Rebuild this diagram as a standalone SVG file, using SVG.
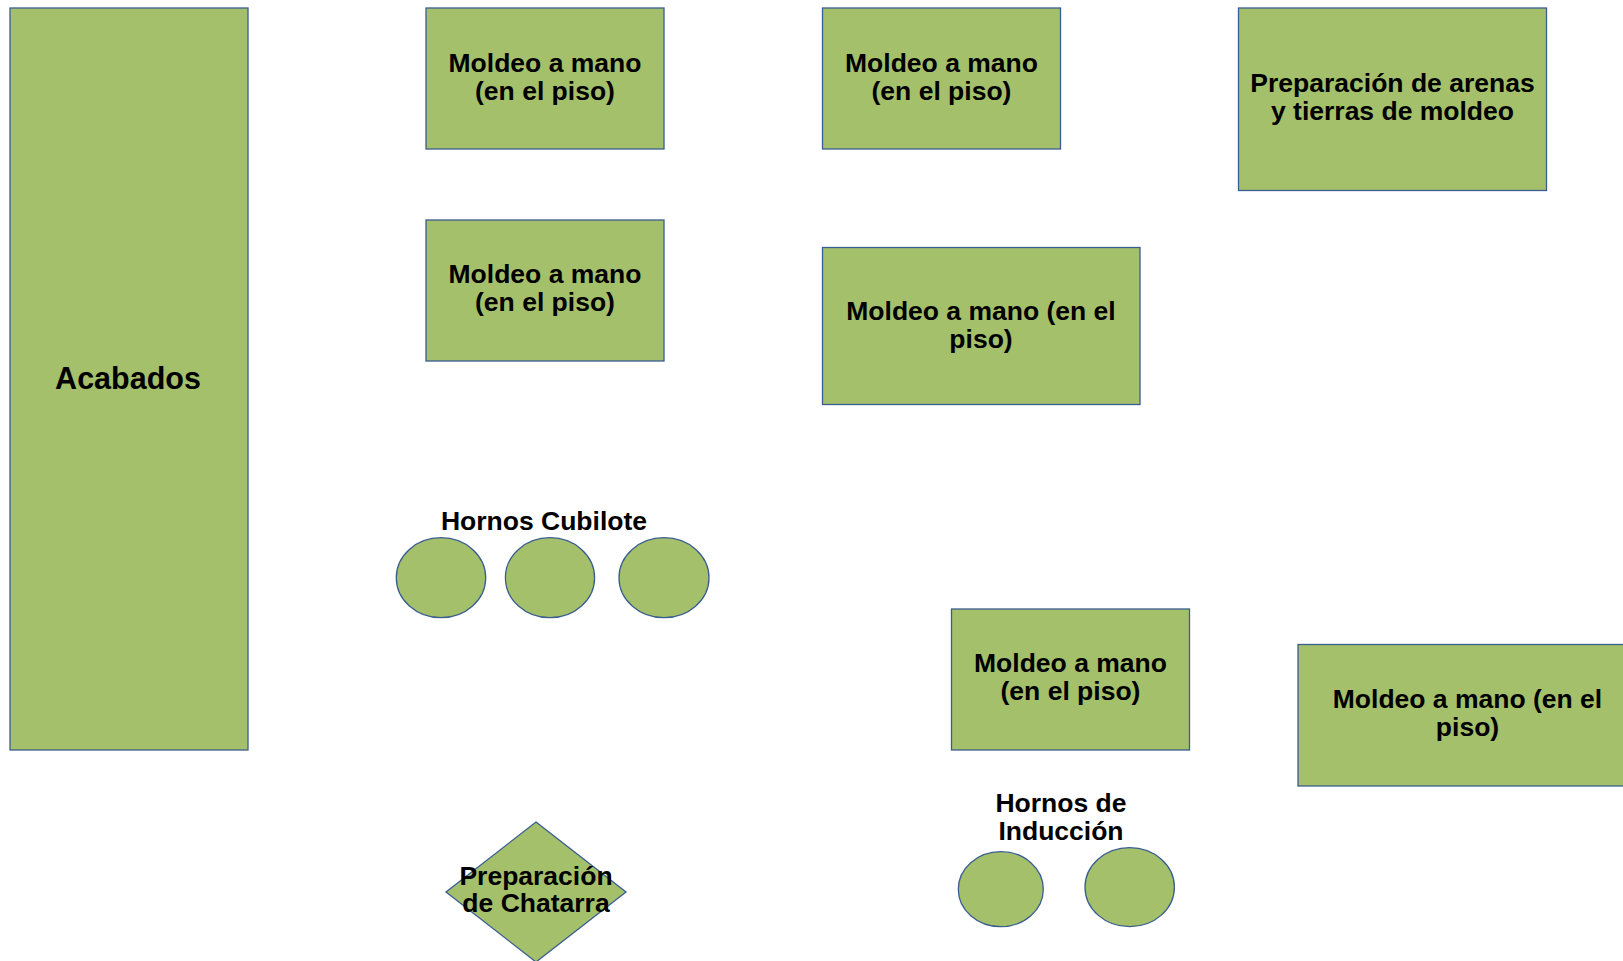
<svg xmlns="http://www.w3.org/2000/svg" width="1623" height="961" viewBox="0 0 1623 961">
<style>
.s{fill:#A5C06B;stroke:#3A5D8F;stroke-width:1.3}
.t{font-family:"Liberation Sans",Arial,sans-serif;font-weight:bold;font-size:26.5px;fill:#000;text-anchor:middle}
.big{font-size:30.5px}
</style>
<rect width="1623" height="961" fill="#fff"/>
<g id="acabados">
<rect class="s" x="10" y="8" width="238" height="742"/>
<text class="t big" x="128" y="388.5">Acabados</text>
</g>
<g id="moldeo1">
<rect class="s" x="426" y="8" width="238" height="141"/>
<text class="t" x="545" y="72">Moldeo a mano</text>
<text class="t" x="545" y="100">(en el piso)</text>
</g>
<g id="moldeo2">
<rect class="s" x="426" y="220" width="238" height="141"/>
<text class="t" x="545" y="283">Moldeo a mano</text>
<text class="t" x="545" y="311">(en el piso)</text>
</g>
<g id="moldeo3">
<rect class="s" x="822.5" y="8" width="238" height="141"/>
<text class="t" x="941.5" y="72">Moldeo a mano</text>
<text class="t" x="941.5" y="100">(en el piso)</text>
</g>
<g id="arenas">
<rect class="s" x="1238.5" y="8" width="308" height="182.5"/>
<text class="t" x="1392.5" y="92">Preparación de arenas</text>
<text class="t" x="1392.5" y="119.5">y tierras de moldeo</text>
</g>
<g id="moldeo4">
<rect class="s" x="822.5" y="247.5" width="317.5" height="157"/>
<text class="t" x="981" y="319.5">Moldeo a mano (en el</text>
<text class="t" x="981" y="347.5">piso)</text>
</g>
<g id="cubilote">
<text class="t" x="544" y="530">Hornos Cubilote</text>
<ellipse class="s" cx="441" cy="577.7" rx="44.7" ry="40"/>
<ellipse class="s" cx="550" cy="577.7" rx="44.6" ry="40"/>
<ellipse class="s" cx="664" cy="577.7" rx="45" ry="40"/>
</g>
<g id="moldeo5">
<rect class="s" x="951.5" y="609" width="238" height="141"/>
<text class="t" x="1070.5" y="672">Moldeo a mano</text>
<text class="t" x="1070.5" y="700">(en el piso)</text>
</g>
<g id="moldeo6">
<rect class="s" x="1298" y="644.5" width="339" height="141.5"/>
<text class="t" x="1467.5" y="707.5">Moldeo a mano (en el</text>
<text class="t" x="1467.5" y="736">piso)</text>
</g>
<g id="induccion">
<text class="t" x="1061" y="812">Hornos de</text>
<text class="t" x="1061" y="840">Inducción</text>
<ellipse class="s" cx="1000.8" cy="889.2" rx="42.5" ry="37.5"/>
<ellipse class="s" cx="1129.7" cy="887.2" rx="44.7" ry="39.5"/>
</g>
<g id="chatarra">
<polygon class="s" points="536,822 626,892 536,962 446,892"/>
<text class="t" x="536" y="885">Preparación</text>
<text class="t" x="536" y="912">de Chatarra</text>
</g>
<g id="connectors"></g>
</svg>
